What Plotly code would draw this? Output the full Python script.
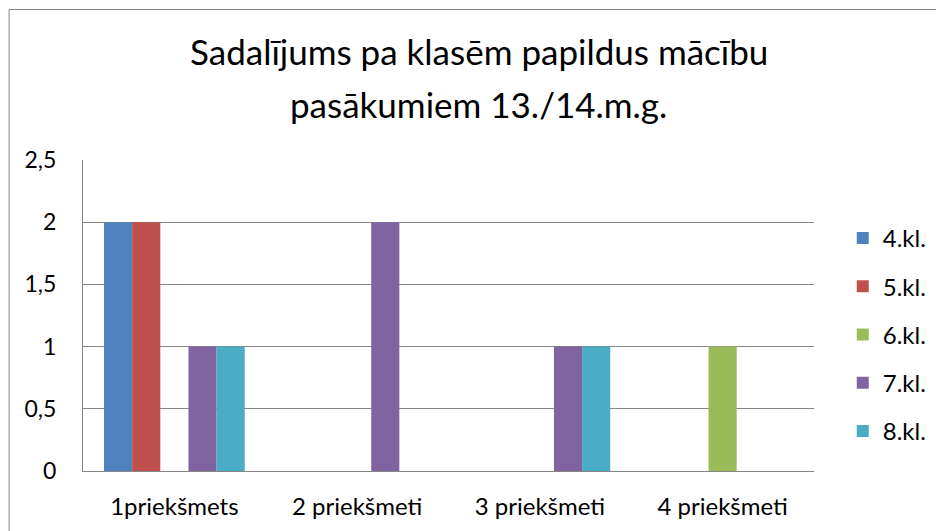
import plotly.graph_objects as go

# data
categories = ["1priekšmets", "2 priekšmeti", "3 priekšmeti", "4 priekšmeti"]
series_names = ["4.kl.", "5.kl.", "6.kl.", "7.kl.", "8.kl."]
kl4 = [2, 0, 0, 0]
kl5 = [2, 0, 0, 0]
kl6 = [0, 0, 0, 1]
kl7 = [1, 2, 1, 0]
kl8 = [1, 0, 1, 0]
y_ticks = [0, 0.5, 1, 1.5, 2, 2.5]
title_line1 = "Sadalījums pa klasēm papildus mācību"
title_line2 = "pasākumiem 13./14.m.g."

colors = ["#4F81BD", "#C0504D", "#9BBB59", "#8064A2", "#4BACC6"]
values = [kl4, kl5, kl6, kl7, kl8]

FONT = "Lato"
GRID = "#868686"

fig = go.Figure()
for name, vals, col in zip(series_names, values, colors):
    fig.add_trace(go.Bar(
        x=categories, y=vals, name=name, legendgroup=name,
        marker=dict(color=col, line=dict(width=0)),
    ))

# the page body has an 8px margin, so the figure is drawn 8px smaller
OFF = 8
FW, FH = 944 - OFF, 531 - OFF
# plot area in screen pixels: x 83..820, y 160..471
L, R, T, B = 83, 820, 160, 471
W, H = R - L, B - T

def px_x(p):
    return (p - L) / W

def px_y(p):
    return (B - p) / H

fig.update_layout(
    width=FW, height=FH,
    margin=dict(l=L - OFF, r=FW - (R - OFF), t=T - OFF, b=FH - (B - OFF), pad=0),
    paper_bgcolor="white", plot_bgcolor="white",
    separators=", ",
    barmode="group", bargap=0.23, bargroupgap=0,
    font=dict(family=FONT, size=24, color="#000000"),
    showlegend=True,
    legend=dict(
        x=px_x(849), y=px_y(216), xanchor="left", yanchor="top",
        font=dict(family=FONT, size=24, color="#000000"),
        traceorder="grouped", tracegroupgap=14,
        itemwidth=30, bgcolor="rgba(0,0,0,0)",
    ),
    xaxis=dict(
        showgrid=False, showline=True, linecolor=GRID, linewidth=1,
        ticks="", ticklabelstandoff=14, tickfont=dict(size=24),
        fixedrange=True,
    ),
    yaxis=dict(
        range=[0, 2.5], tickvals=y_ticks, showgrid=True, gridcolor=GRID,
        gridwidth=1, showline=True, linecolor=GRID, linewidth=1,
        zeroline=False, ticks="", ticklabelstandoff=21,
        tickfont=dict(size=23), fixedrange=True,
    ),
    annotations=[
        dict(text=title_line1, x=px_x(482), y=px_y(51), xref="paper",
             yref="paper", xanchor="center", yanchor="middle",
             showarrow=False, font=dict(family=FONT, size=35)),
        dict(text=title_line2, x=px_x(482), y=px_y(104), xref="paper",
             yref="paper", xanchor="center", yanchor="middle",
             showarrow=False, font=dict(family=FONT, size=35)),
    ],
    shapes=[
        dict(type="rect", xref="paper", yref="paper",
             x0=px_x(8.5), x1=px_x(1000), y0=px_y(600), y1=px_y(9.5),
             line=dict(color=GRID, width=1), fillcolor="rgba(0,0,0,0)",
             layer="below"),
    ],
)

fig.write_html("out.html")
